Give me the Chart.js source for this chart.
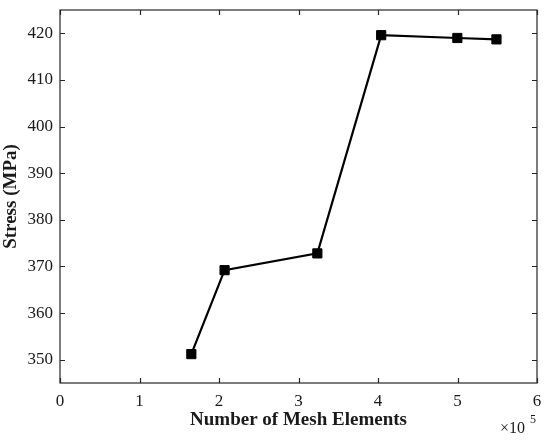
<!DOCTYPE html>
<html>
<head>
<meta charset="utf-8">
<script src="https://cdn.jsdelivr.net/npm/chart.js@4"></script>
<style>
  html, body { margin: 0; padding: 0; background: #fff; }
  #wrap { width: 550px; height: 443px; }
</style>
</head>
<body>
<div id="wrap"><canvas id="meshChart" width="550" height="443"></canvas></div>
<script>
// mesh convergence study values
const meshElements = [165200, 207000, 323700, 404000, 499800, 549000];
const stressMPa = [351.2, 369.2, 372.8, 419.6, 419.0, 418.7];
const xTickValues = [0, 100000, 200000, 300000, 400000, 500000, 600000];
const xTickLabels = ['0', '1', '2', '3', '4', '5', '6'];
const yTickValues = [350, 360, 370, 380, 390, 400, 410, 420];

const axisColor = '#262626';
const serif = "'Liberation Serif', 'Times New Roman', serif";

// box around the plot + inward ticks on all four sides (matlab style)
const boxPlugin = {
    id: 'box',
    afterDraw(chart) {
        const { ctx, chartArea: a, scales } = chart;
        ctx.save();
        ctx.strokeStyle = axisColor;
        ctx.lineWidth = 1.2;
        ctx.strokeRect(a.left, a.top, a.right - a.left, a.bottom - a.top);
        const len = 5;
        ctx.beginPath();
        scales.x.ticks.forEach(t => {
            const px = Math.round(scales.x.getPixelForValue(t.value)) + 0.5;
            ctx.moveTo(px, a.bottom); ctx.lineTo(px, a.bottom - len);
            ctx.moveTo(px, a.top); ctx.lineTo(px, a.top + len);
        });
        scales.y.ticks.forEach(t => {
            const py = Math.round(scales.y.getPixelForValue(t.value)) + 0.5;
            ctx.moveTo(a.left, py); ctx.lineTo(a.left + len, py);
            ctx.moveTo(a.right, py); ctx.lineTo(a.right - len, py);
        });
        ctx.stroke();

        // exponent label under the right end of the x axis
        ctx.fillStyle = '#1a1a1a';
        ctx.textBaseline = 'middle';
        ctx.textAlign = 'left';
        ctx.font = '16px ' + serif;
        ctx.fillText('\u00d710', a.right - 37, 429);
        ctx.font = '12px ' + serif;
        ctx.fillText('5', a.right - 7, 420);
        ctx.restore();
    }
};

new Chart(document.getElementById('meshChart'), {
    type: 'scatter',
    data: {
        datasets: [{
            data: meshElements.map((x, i) => ({ x: x, y: stressMPa[i] })),
            showLine: true,
            borderColor: '#000',
            backgroundColor: '#000',
            borderWidth: 2.2,
            pointStyle: 'rect',
            pointRadius: 6.5,
            pointBorderWidth: 1,
            tension: 0
        }]
    },
    options: {
        responsive: false,
        animation: false,
        layout: { padding: { top: 10, right: 13, left: 0, bottom: 0 } },
        plugins: { legend: { display: false }, tooltip: { enabled: false } },
        scales: {
            x: {
                type: 'linear',
                min: 0,
                max: 600000,
                afterBuildTicks: s => { s.ticks = xTickValues.map(v => ({ value: v })); },
                afterFit: s => { s.height = 60; s.paddingLeft = 0; s.paddingRight = 0; },
                grid: { display: false, drawTicks: false },
                border: { display: false },
                ticks: {
                    padding: 8,
                    color: '#1a1a1a',
                    font: { family: serif, size: 17 },
                    maxRotation: 0,
                    callback: (v) => xTickLabels[xTickValues.indexOf(v)]
                },
                title: {
                    display: true,
                    text: 'Number of Mesh Elements',
                    color: '#1a1a1a',
                    font: { family: serif, size: 19, weight: 'bold' },
                    padding: { top: 0, bottom: 12 }
                }
            },
            y: {
                min: 345,
                max: 425,
                afterBuildTicks: s => { s.ticks = yTickValues.map(v => ({ value: v })); },
                afterFit: s => { s.width = 60; s.paddingTop = 0; s.paddingBottom = 0; },
                grid: { display: false, drawTicks: false },
                border: { display: false },
                ticks: {
                    padding: 7,
                    color: '#1a1a1a',
                    font: { family: serif, size: 17 }
                },
                title: {
                    display: true,
                    text: 'Stress (MPa)',
                    color: '#1a1a1a',
                    font: { family: serif, size: 19, weight: 'bold' },
                    padding: { top: 0, bottom: 0 }
                }
            }
        }
    },
    plugins: [boxPlugin]
});
</script>
</body>
</html>
